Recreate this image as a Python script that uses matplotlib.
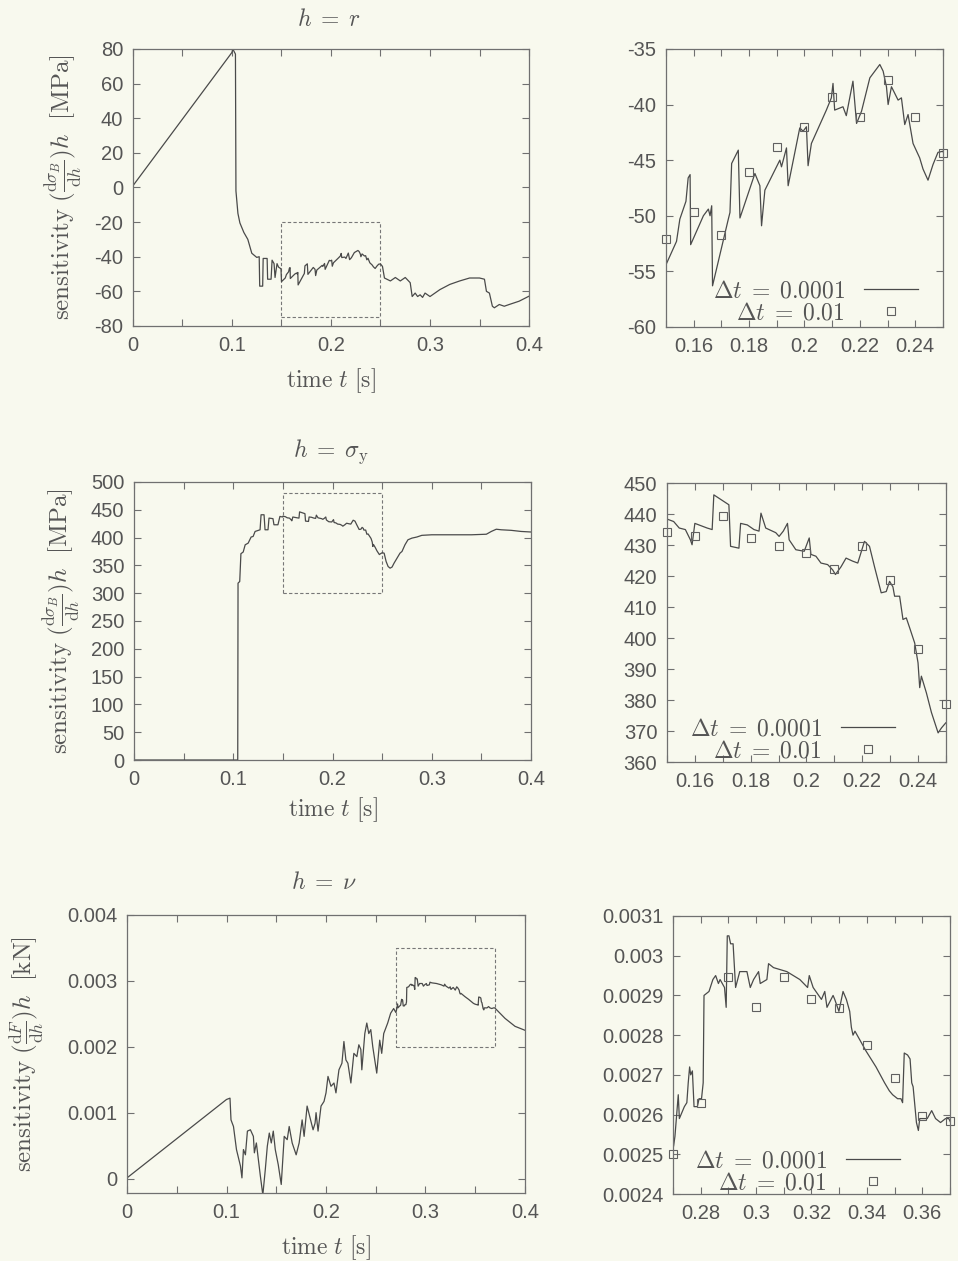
import matplotlib
matplotlib.use("Agg")
import matplotlib.pyplot as plt
from matplotlib.patches import Rectangle
from matplotlib.ticker import MultipleLocator, FuncFormatter

# h = r : sensitivity of sigma_B [MPa], fine run (dt = 0.0001)
t_r = [0.0, 0.1, 0.1008, 0.1035, 0.104, 0.106, 0.108, 0.112, 0.116, 0.12, 0.125,
       0.1275, 0.128, 0.131, 0.1315, 0.1355, 0.136, 0.1395, 0.1405, 0.1425, 0.1435,
       0.1455, 0.147, 0.1495,
       0.15, 0.1538, 0.155, 0.1572, 0.158, 0.1587, 0.1589, 0.1635, 0.1653, 0.1659,
       0.1665, 0.1668, 0.1725, 0.1731, 0.1737, 0.1761, 0.1767, 0.1821, 0.1839, 0.1845,
       0.1857, 0.1911, 0.1917, 0.1935, 0.1941, 0.1983, 0.1995, 0.2007, 0.2013, 0.2025,
       0.2079, 0.2097, 0.2103, 0.2109, 0.2139, 0.2151, 0.2175, 0.2188, 0.2206, 0.2236,
       0.2272, 0.2284, 0.2296, 0.2302, 0.2314, 0.2326, 0.2338, 0.235, 0.2362, 0.2374,
       0.2392, 0.2416, 0.2428, 0.2446, 0.2464, 0.2482, 0.25,
       0.252, 0.254, 0.26, 0.265, 0.27, 0.275, 0.28, 0.282, 0.285, 0.2875, 0.29, 0.2925,
       0.295, 0.3, 0.31, 0.32, 0.33, 0.34, 0.35, 0.355, 0.357, 0.36, 0.363, 0.365, 0.37,
       0.375, 0.38, 0.39, 0.4]
s_r = [1.0, 78.0, 80.0, 77.0, -2.0, -15.0, -20.5, -26.0, -30.0, -38.0, -40.4,
       -40.0, -57.0, -57.0, -41.0, -41.0, -53.0, -53.0, -42.0, -44.0, -52.0,
       -44.0, -46.0, -47.0,
       -54.4, -52.3, -50.3, -48.7, -46.6, -46.3, -52.6, -50.0, -49.4, -50.0,
       -49.1, -56.3, -50.3, -49.7, -45.3, -44.1, -50.2, -46.2, -47.3, -50.9,
       -47.7, -45.0, -45.6, -43.9, -47.3, -42.1, -42.4, -42.0, -45.5, -43.5,
       -40.5, -39.4, -38.1, -40.5, -40.2, -41.0, -37.9, -41.7, -40.6, -37.6,
       -36.4, -37.0, -38.4, -40.0, -38.4, -39.0, -39.6, -39.4, -41.8, -40.9,
       -43.5, -44.8, -45.8, -46.8, -45.4, -44.3, -44.2,
       -45.6, -52.3, -54.0, -52.0, -54.0, -52.0, -55.0, -63.0, -61.0, -63.0, -62.0, -63.5,
       -61.0, -63.0, -59.0, -56.0, -54.0, -52.3, -52.3, -53.0, -60.0, -61.0, -68.6, -69.5, -67.6,
       -68.6, -67.6, -65.7, -62.8]

# coarse run (dt = 0.01) inside the zoom window
t_r_coarse = [0.15, 0.16, 0.17, 0.18, 0.19, 0.20, 0.21, 0.22, 0.23, 0.24, 0.25]
s_r_coarse = [-52.1, -49.7, -51.7, -46.1, -43.8, -42.0, -39.3, -41.1, -37.8, -41.1, -44.4]

# h = sigma_y : sensitivity of sigma_B [MPa]
t_sy = [0.0, 0.1045, 0.1048, 0.1065, 0.1077, 0.11, 0.112, 0.115, 0.118, 0.12, 0.122,
        0.127, 0.128, 0.131, 0.132, 0.135, 0.136, 0.14, 0.141, 0.145, 0.147, 0.1496,
        0.15, 0.1524, 0.1544, 0.1566, 0.1584, 0.159, 0.16, 0.1644, 0.1662, 0.1668,
        0.1722, 0.1728, 0.1758, 0.1764, 0.1788, 0.1812, 0.183, 0.1837, 0.1854, 0.189,
        0.1902, 0.1917, 0.1932, 0.1938, 0.1962, 0.1992, 0.201, 0.2016, 0.2034, 0.2052,
        0.2076, 0.2094, 0.2104, 0.2124, 0.2142, 0.2166, 0.2184, 0.2208, 0.2226, 0.2244,
        0.2268, 0.2286, 0.2298, 0.231, 0.2316, 0.2334, 0.2346, 0.2358, 0.237, 0.2388,
        0.24, 0.2406, 0.2412, 0.243, 0.2448, 0.2472, 0.2484, 0.25,
        0.252, 0.254, 0.256, 0.258, 0.26, 0.262, 0.265, 0.268, 0.27, 0.273, 0.276,
        0.28, 0.285, 0.29, 0.3, 0.32, 0.34, 0.355, 0.36, 0.365, 0.37, 0.38, 0.39, 0.4]
s_sy = [0.0, 0.0, 318.0, 321.0, 371.0, 374.0, 387.0, 390.0, 401.0, 402.0, 411.0,
        414.0, 441.0, 441.0, 414.0, 414.0, 435.0, 434.0, 423.0, 423.0, 438.0, 437.0,
        438.4, 437.6, 435.5, 435.0, 431.7, 430.1, 437.0, 435.5, 435.0, 446.2,
        443.0, 429.6, 429.0, 437.0, 436.5, 435.0, 434.5, 440.3, 435.5, 434.0,
        432.8, 434.5, 437.0, 431.7, 428.5, 428.0, 432.3, 427.0, 426.4, 424.2,
        423.7, 422.0, 420.5, 423.0, 425.8, 424.8, 424.2, 431.2, 429.6, 423.0,
        414.6, 415.0, 418.3, 416.5, 413.5, 413.5, 406.0, 406.5, 403.3, 398.4,
        392.0, 384.0, 387.7, 382.3, 376.0, 369.4, 371.0, 372.7,
        372.0, 357.0, 348.0, 345.0, 347.0, 354.0, 363.0, 372.0, 375.0, 387.0, 396.0,
        399.0, 401.0, 404.0, 405.0, 405.0, 405.0, 406.0, 411.0, 415.0, 414.0, 413.0, 411.0, 410.0]

t_sy_coarse = [0.15, 0.16, 0.17, 0.18, 0.19, 0.20, 0.21, 0.22, 0.23, 0.24, 0.25]
s_sy_coarse = [434.1, 433.0, 439.3, 432.3, 429.6, 427.4, 422.3, 429.8, 418.6, 396.5, 378.6]

# h = nu : sensitivity of F [kN]
t_nu = [0.0, 0.1, 0.1035, 0.1045, 0.107, 0.11, 0.114, 0.1155, 0.117, 0.119, 0.121,
        0.124, 0.127, 0.128, 0.13, 0.134, 0.1365, 0.139, 0.141, 0.143, 0.145, 0.147,
        0.149, 0.152, 0.155, 0.158, 0.161, 0.163, 0.166, 0.17, 0.173, 0.176, 0.178,
        0.181, 0.184, 0.187, 0.189, 0.19, 0.192, 0.195, 0.198, 0.2, 0.202, 0.205,
        0.208, 0.21, 0.213, 0.216, 0.218, 0.22, 0.222, 0.225, 0.228, 0.231, 0.233,
        0.235, 0.236, 0.239, 0.241, 0.243, 0.245, 0.247, 0.249, 0.251, 0.254, 0.256,
        0.258, 0.262, 0.265, 0.268,
        0.2702, 0.2707, 0.2711, 0.2719, 0.2723, 0.2741, 0.275, 0.2755, 0.276, 0.2764,
        0.277, 0.2776, 0.2788, 0.2794, 0.2803, 0.2809, 0.2812, 0.283, 0.2844, 0.2854,
        0.2864, 0.287, 0.2878, 0.2886, 0.2892, 0.2896, 0.2902, 0.2908, 0.2917, 0.2926,
        0.2941, 0.2967, 0.2979, 0.2991, 0.3009, 0.3015, 0.3039, 0.3045, 0.3063, 0.3111,
        0.3158, 0.3186, 0.3192, 0.3206, 0.3236, 0.3248, 0.3256, 0.3278, 0.3284, 0.3299,
        0.3314, 0.3326, 0.3338, 0.3344, 0.335, 0.3357, 0.3397, 0.3433, 0.3464, 0.3481,
        0.3493, 0.3511, 0.3523, 0.3529, 0.3535, 0.3547, 0.3556, 0.3562, 0.3567, 0.3579,
        0.3586, 0.3591, 0.3618, 0.3634, 0.3648, 0.3666, 0.3684, 0.3696,
        0.38, 0.39, 0.4]
s_nu = [0.00001, 0.0012, 0.00122, 0.00089, 0.00079, 0.00044, 0.00019, 0.00001, 0.00044,
        0.00036, 0.00072, 0.00074, 0.00064, 0.00039, 0.00054, 0.00004, -0.00025, 0.00014,
        0.00049, 0.00069, 0.00054, 0.00072, 0.00044, 0.00021, -0.00009, 0.00064, 0.00059,
        0.00079, 0.00054, 0.00036, 0.00054, 0.00089, 0.00064, 0.0011, 0.00092, 0.00074,
        0.00084, 0.001, 0.00072, 0.0011, 0.00117, 0.0013, 0.00155, 0.0014, 0.00145,
        0.0013, 0.00165, 0.00175, 0.00208, 0.0018, 0.00175, 0.00145, 0.0019, 0.00185,
        0.00203, 0.00196, 0.00165, 0.0022, 0.00236, 0.0022, 0.00226, 0.002, 0.0018,
        0.0016, 0.0021, 0.0019, 0.0022, 0.00236, 0.00251, 0.00258,
        0.00252, 0.002545, 0.00258, 0.00265, 0.00259, 0.00262, 0.00263, 0.00268, 0.00272,
        0.0027, 0.00271, 0.00262, 0.00262, 0.00264, 0.00264, 0.00268, 0.0029, 0.00291,
        0.00294, 0.00295, 0.00293, 0.00294, 0.00293, 0.00292, 0.00287, 0.00305, 0.00305,
        0.00303, 0.00303, 0.00292, 0.00296, 0.00296, 0.00292, 0.00294, 0.00296, 0.00293,
        0.00294, 0.00298, 0.00297, 0.00296, 0.00294, 0.00292, 0.00295, 0.00292, 0.00289,
        0.00291, 0.00287, 0.0029, 0.00289, 0.00286, 0.00291, 0.00289, 0.00286, 0.00282,
        0.0028, 0.00281, 0.00276, 0.00272, 0.00268, 0.00266, 0.00265, 0.00264, 0.00264,
        0.00263, 0.002755, 0.00275, 0.00274, 0.00268, 0.00267, 0.00258, 0.00256, 0.00259,
        0.00259, 0.00261, 0.00259, 0.00258, 0.00259, 0.00259,
        0.00243, 0.00231, 0.00225]

t_nu_coarse = [0.27, 0.28, 0.29, 0.30, 0.31, 0.32, 0.33, 0.34, 0.35, 0.36, 0.37]
s_nu_coarse = [0.0025, 0.00263, 0.002947, 0.00287, 0.002947, 0.00289, 0.002869,
               0.002776, 0.002692, 0.002597, 0.002585]

PAPER = "#f8f9ee"
INK = "#4a4a4a"
TEXT = "#555555"

plt.rcParams["font.family"] = ["Liberation Sans", "DejaVu Sans"]
plt.rcParams["mathtext.fontset"] = "cm"
plt.rcParams["axes.unicode_minus"] = False


def num_fmt(v, pos):
    return f"{round(v, 6) + 0.0:g}"


def style_axes(ax, xlim, ylim, xmajor, xminor, ymajor):
    ax.set_facecolor(PAPER)
    ax.set_xlim(*xlim)
    ax.set_ylim(*ylim)
    ax.xaxis.set_major_locator(MultipleLocator(xmajor))
    ax.xaxis.set_minor_locator(MultipleLocator(xminor))
    ax.yaxis.set_major_locator(MultipleLocator(ymajor))
    ax.xaxis.set_major_formatter(FuncFormatter(num_fmt))
    ax.yaxis.set_major_formatter(FuncFormatter(num_fmt))
    ax.tick_params(which="both", direction="in", top=True, right=True,
                   length=5, width=0.8, color="#707070")
    ax.tick_params(which="major", labelsize=14.5, labelcolor=TEXT, pad=7)
    for sp in ax.spines.values():
        sp.set_color("#707070")
        sp.set_linewidth(0.9)


def overview(ax, t, s, rect, xlim, ylim, ymajor, title, ylabel, ylabel_x, title_y, xlabel_y):
    style_axes(ax, xlim, ylim, 0.1, 0.05, ymajor)
    ax.plot(t, s, color=INK, lw=0.9)
    x0, x1, y0, y1 = rect
    ax.add_patch(Rectangle((x0, y0), x1 - x0, y1 - y0, fill=False,
                           ls=(0, (3, 2)), lw=0.8, ec="#777777"))
    ax.text(0.495, title_y, title, transform=ax.transAxes, ha="center",
            va="center", fontsize=17, color=TEXT)
    ax.set_ylabel(ylabel, fontsize=18, color=TEXT)
    ax.yaxis.set_label_coords(ylabel_x, 0.5)
    ax.set_xlabel(r"$\mathrm{time}\ t\ [\mathrm{s}]$", fontsize=17, color=TEXT)
    ax.xaxis.set_label_coords(0.5, xlabel_y)


def detail(ax, t, s, tc, sc, xlim, ylim, xmajor, ymajor, legend_anchor):
    style_axes(ax, xlim, ylim, xmajor, xmajor / 2, ymajor)
    ax.plot(t, s, color=INK, lw=0.9, label=r"$\Delta t\;=\;0.0001$")
    ax.plot(tc, sc, ls="none", marker="s", ms=6, mfc="none", mec="#606060",
            mew=0.8, label=r"$\Delta t\;=\;0.01$", clip_on=False)
    leg = ax.legend(loc="lower right", bbox_to_anchor=legend_anchor, frameon=False,
                    markerfirst=False, fontsize=17, handlelength=2.3,
                    handletextpad=0.8, labelspacing=0.0, borderpad=0,
                    borderaxespad=0)
    for txt in leg.get_texts():
        txt.set_color(TEXT)


def main() -> None:
    fig = plt.figure(figsize=(9.58, 12.61), dpi=100, facecolor=PAPER)

    ax1 = fig.add_axes([0.1388, 0.7415, 0.4134, 0.2197])
    ax2 = fig.add_axes([0.6952, 0.7407, 0.2891, 0.2205])
    ax3 = fig.add_axes([0.1399, 0.3973, 0.4144, 0.2205])
    ax4 = fig.add_axes([0.6962, 0.3957, 0.2912, 0.2212])
    ax5 = fig.add_axes([0.1326, 0.0539, 0.4154, 0.2205])
    ax6 = fig.add_axes([0.7025, 0.0531, 0.2891, 0.2205])

    lab_stress = (r"$\mathrm{sensitivity}\ (\frac{\mathrm{d}\sigma_B}{\mathrm{d}h})h"
                  r"\ \ [\mathrm{MPa}]$")
    lab_force = (r"$\mathrm{sensitivity}\ (\frac{\mathrm{d}F}{\mathrm{d}h})h"
                 r"\ \ [\mathrm{kN}]$")

    overview(ax1, t_r, s_r, (0.15, 0.25, -75, -20), (0, 0.4), (-80, 80), 20,
             r"$h\;=\;r$", lab_stress, -0.124, 1.105, -0.145)
    overview(ax3, t_sy, s_sy, (0.15, 0.25, 300, 480), (0, 0.4), (0, 500), 50,
             r"$h\;=\;\sigma_{\mathrm{y}}$", lab_stress, -0.131, 1.108, -0.125)
    overview(ax5, t_nu, s_nu, (0.27, 0.37, 0.002, 0.0035), (0, 0.4), (-0.00022, 0.004),
             0.001, r"$h\;=\;\nu$", lab_force, -0.204, 1.115, -0.145)

    detail(ax2, t_r, s_r, t_r_coarse, s_r_coarse, (0.15, 0.25), (-60, -35),
           0.02, 5, (0.91, 0.01))
    detail(ax4, t_sy, s_sy, t_sy_coarse, s_sy_coarse, (0.15, 0.25), (360, 450),
           0.02, 10, (0.817, 0.0))
    detail(ax6, t_nu, s_nu, t_nu_coarse, s_nu_coarse, (0.27, 0.37), (0.0024, 0.0031),
           0.02, 0.0001, (0.82, 0.0))

    fig.savefig("out.png", dpi=100, facecolor=PAPER)


if __name__ == "__main__":
    main()
